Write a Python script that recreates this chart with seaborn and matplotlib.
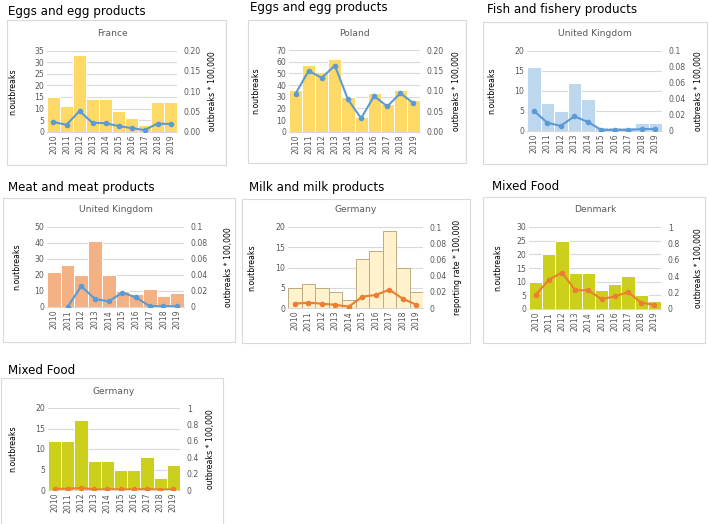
import numpy as np
import matplotlib
matplotlib.use("Agg")
import matplotlib.pyplot as plt
from matplotlib.patches import Rectangle
from matplotlib.ticker import FormatStrFormatter, FuncFormatter
import seaborn as sns

# data
years = ["2010", "2011", "2012", "2013", "2014", "2015", "2016", "2017", "2018", "2019"]

fr_eggs_n = [15, 11, 33, 14, 14, 9, 6, 3, 13, 13]
fr_eggs_rate = [0.024, 0.017, 0.051, 0.022, 0.021, 0.014, 0.009, 0.004, 0.020, 0.019]

pl_eggs_n = [36, 57, 51, 62, 30, 13, 33, 24, 36, 27]
pl_eggs_rate = [0.093, 0.149, 0.132, 0.162, 0.079, 0.033, 0.087, 0.062, 0.094, 0.070]

uk_fish_n = [16, 7, 5, 12, 8, 1, 1, 1, 2, 2]
uk_fish_rate = [0.025, 0.010, 0.006, 0.018, 0.011, 0.001, 0.001, 0.001, 0.002, 0.002]

uk_meat_n = [22, 26, 20, 41, 20, 10, 8, 11, 7, 9]
uk_meat_rate = [np.nan, 0.0, 0.026, 0.010, 0.007, 0.018, 0.012, 0.001, 0.001, 0.001]

de_milk_n = [5, 6, 5, 4, 2, 12, 14, 19, 10, 4]
de_milk_rate = [0.0053, 0.0066, 0.0053, 0.004, 0.0016, 0.014, 0.016, 0.0226, 0.0115, 0.004]

dk_mixed_n = [10, 20, 25, 13, 13, 7, 9, 12, 5, 3]
dk_mixed_rate = [0.17, 0.356, 0.445, 0.23, 0.227, 0.12, 0.154, 0.206, 0.077, 0.049]

de_mixed_n = [12, 12, 17, 7, 7, 5, 5, 8, 3, 6]
de_mixed_rate = [0.015, 0.015, 0.025, 0.008, 0.008, 0.008, 0.008, 0.012, 0.005, 0.01]

W, H = 709, 524
sns.set_theme(style="white")
plt.rcParams["font.family"] = ["DejaVu Sans"]

fig = plt.figure(figsize=(W / 100, H / 100), dpi=100)
fig.patch.set_facecolor("white")

GRAY = "#595959"
BLUE = "#5B9BD5"
ORANGE = "#ED7D31"


def fx(x):
    return x / W


def fy(y):
    return 1 - y / H


def general_fmt(v, pos):
    return "0" if abs(v) < 1e-9 else ("%g" % v)


def draw_panel(heading, heading_xy, country, counts, rates, box, plot,
               bar_color, line_color, ymax, ystep, rmax, rstep, rfmt,
               rlabel, ylab_x, rlab_x, edge="white"):
    # outer frame
    bx0, by0, bx1, by1 = box
    fig.patches.append(Rectangle((fx(bx0), fy(by1)), fx(bx1 - bx0), (by1 - by0) / H,
                                 transform=fig.transFigure, fill=False,
                                 edgecolor="#D9D9D9", linewidth=0.8))
    fig.text(fx(heading_xy[0]), fy(heading_xy[1]), heading, fontsize=8.6,
             color="black", va="center", ha="left")

    x0, y0, x1, y1 = plot
    ax = fig.add_axes([fx(x0), fy(y1), fx(x1 - x0), (y1 - y0) / H])
    sns.barplot(x=years, y=counts, ax=ax, color=bar_color, width=1.0,
                saturation=1, edgecolor=edge, linewidth=0.7, zorder=2)
    ax.set_ylim(0, ymax)
    ax.set_yticks(np.arange(0, ymax + 0.01, ystep))
    ax.yaxis.grid(True, color="#D9D9D9", linewidth=0.8, zorder=0)
    ax.set_axisbelow(True)
    ax.tick_params(axis="both", length=0, labelsize=5.6, labelcolor=GRAY, pad=2)
    ax.tick_params(axis="x", labelrotation=90)
    ax.set_xlabel("")
    ax.set_ylabel("")
    for s in ax.spines.values():
        s.set_visible(False)
    ax.spines["bottom"].set_visible(True)
    ax.spines["bottom"].set_color("#D9D9D9")
    ax.spines["bottom"].set_linewidth(0.8)

    ax2 = ax.twinx()
    ax2.plot(np.arange(len(years)), rates, color=line_color, linewidth=1.5,
             marker="o", markersize=3, zorder=3)
    ax2.set_ylim(0, rmax)
    ax2.set_yticks(np.arange(0, rmax + rstep / 10, rstep))
    if rfmt == "fixed":
        ax2.yaxis.set_major_formatter(FormatStrFormatter("%.2f"))
    else:
        ax2.yaxis.set_major_formatter(FuncFormatter(general_fmt))
    ax2.tick_params(axis="y", length=0, labelsize=5.6, labelcolor=GRAY, pad=5)
    for s in ax2.spines.values():
        s.set_visible(False)
    ax.set_xlim(-0.5, len(years) - 0.5)

    cx = (x0 + x1) / 2
    cy = (y0 + y1) / 2
    fig.text(fx(cx), fy(y0 - 17), country, fontsize=6.6, color=GRAY,
             ha="center", va="center")
    fig.text(fx(ylab_x), fy(cy), "n.outbreaks", fontsize=5.6, color="black",
             rotation=90, ha="center", va="center")
    fig.text(fx(rlab_x), fy(cy), rlabel, fontsize=5.6, color="black",
             rotation=90, ha="center", va="center")


RL = "outbreaks * 100,000"

draw_panel("Eggs and egg products", (8, 12), "France", fr_eggs_n, fr_eggs_rate,
           (7, 20, 226, 165), (47, 50.7, 177, 131.7), "#FFD966", BLUE,
           35, 5, 0.20, 0.05, "fixed", RL, 13, 213)
draw_panel("Eggs and egg products", (250, 8), "Poland", pl_eggs_n, pl_eggs_rate,
           (248, 20, 466, 163), (289, 50, 420, 131.7), "#FFD966", BLUE,
           70, 10, 0.20, 0.05, "fixed", RL, 256, 457)
draw_panel("Fish and fishery products", (487, 9), "United Kingdom", uk_fish_n, uk_fish_rate,
           (483, 22, 707, 164), (527, 50.7, 662, 130.7), "#BDD7EE", BLUE,
           20, 5, 0.1, 0.02, "general", RL, 492, 698)
draw_panel("Meat and meat products", (8, 188), "United Kingdom", uk_meat_n, uk_meat_rate,
           (3, 198, 235, 342), (47, 227, 184, 307), "#F4B183", BLUE,
           50, 10, 0.1, 0.02, "general", RL, 17, 228)
draw_panel("Milk and milk products", (249, 187), "Germany", de_milk_n, de_milk_rate,
           (242, 199, 470, 343), (288, 227, 423, 308), "#FFF2CC", ORANGE,
           20, 5, 0.1, 0.02, "general", "reporting rate * 100,000", 252, 458,
           edge="#BFA980")
draw_panel("Mixed Food", (492, 186), "Denmark", dk_mixed_n, dk_mixed_rate,
           (483, 197, 705, 343), (529, 227, 661, 309), "#CDD01A", ORANGE,
           30, 5, 1, 0.2, "general", RL, 498, 698)
draw_panel("Mixed Food", (8, 370), "Germany", de_mixed_n, de_mixed_rate,
           (1, 378, 223, 530), (48, 408, 180, 490), "#CDD01A", ORANGE,
           20, 5, 1, 0.2, "general", RL, 13, 211)

fig.savefig("out.png", dpi=100, facecolor="white")
